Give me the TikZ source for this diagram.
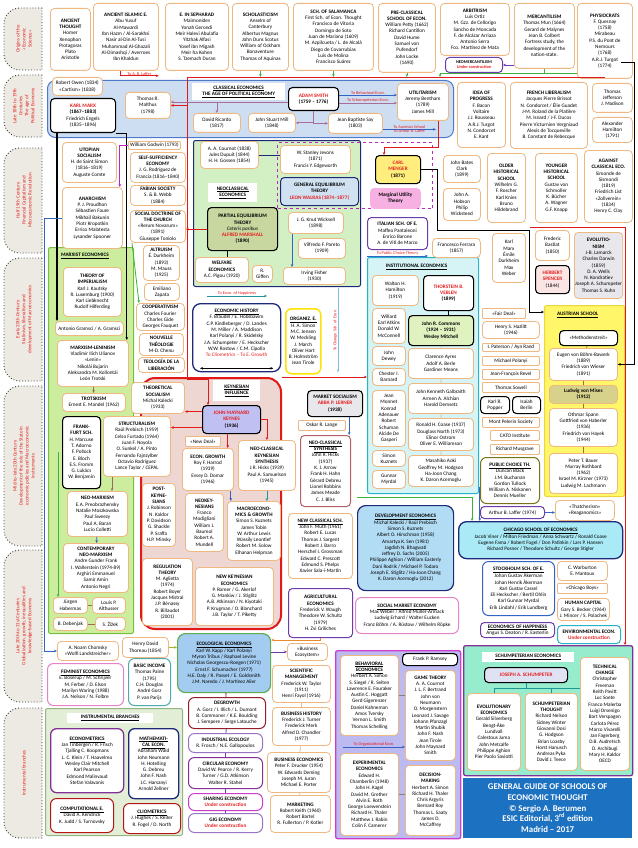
\documentclass[tikz,border=0pt]{standalone}
\usepackage{fontspec}
\setmainfont{Carlito}
\usepackage{xcolor}
\definecolor{boxtan}{RGB}{238,184,128}
\definecolor{redtxt}{RGB}{230,30,30}
\definecolor{lnred}{RGB}{225,25,25}
\definecolor{erafill}{RGB}{236,234,226}
\definecolor{eragray}{RGB}{60,60,60}
\definecolor{classfill}{RGB}{206,222,242}
\definecolor{classline}{RGB}{80,120,200}
\definecolor{neofill}{RGB}{210,240,196}
\definecolor{navy}{RGB}{30,40,120}
\definecolor{marxfill}{RGB}{204,236,158}
\definecolor{marxline}{RGB}{120,190,60}
\definecolor{keynfill}{RGB}{238,214,210}
\definecolor{instfill}{RGB}{214,243,245}
\definecolor{instline}{RGB}{40,180,200}
\definecolor{austfill}{RGB}{255,247,105}
\definecolor{austline}{RGB}{235,215,60}
\definecolor{schumfill}{RGB}{150,236,204}
\definecolor{purpline}{RGB}{130,50,150}
\definecolor{behfill}{RGB}{188,186,240}
\definecolor{magline}{RGB}{205,60,205}
\definecolor{instrfill}{RGB}{226,239,214}
\definecolor{instrline}{RGB}{150,180,130}
\definecolor{guideblue}{RGB}{28,113,192}
\definecolor{olivefill}{RGB}{200,214,160}
\definecolor{misesfill}{RGB}{214,210,140}
\definecolor{walrasfill}{RGB}{208,226,242}
\definecolor{keynesfill}{RGB}{192,192,242}
\definecolor{mengerfill}{RGB}{255,238,125}
\definecolor{pinkfill}{RGB}{246,176,226}
\definecolor{commonsfill}{RGB}{224,242,192}
\definecolor{devfill}{RGB}{178,220,244}
\definecolor{chicfill}{RGB}{170,234,246}
\definecolor{ecofill}{RGB}{164,204,240}
\definecolor{ecoline}{RGB}{90,175,80}
\definecolor{spencerfill}{RGB}{250,228,228}
\definecolor{grayfill}{RGB}{232,232,236}
\definecolor{schumbox}{RGB}{222,226,242}
\definecolor{lnblue}{RGB}{50,100,200}
\definecolor{lnmauve}{RGB}{170,110,150}
\definecolor{lngreen}{RGB}{60,180,60}
\definecolor{lnmag}{RGB}{190,40,190}
\definecolor{lnteal}{RGB}{30,150,150}
\definecolor{lnpurp}{RGB}{110,60,170}
\definecolor{lnorange}{RGB}{230,140,40}
\definecolor{lnolive}{RGB}{160,180,40}
\definecolor{lnbrown}{RGB}{150,110,80}
\definecolor{lnlblue}{RGB}{120,190,230}
\definecolor{dkred}{RGB}{150,30,40}
\definecolor{pinkline}{RGB}{230,130,200}
\definecolor{tealline}{RGB}{80,170,170}
\usepackage{tikz}
\usetikzlibrary{arrows.meta}
\newcommand{\bxfont}{\fontsize{5.2}{6.3}\selectfont}
\newcommand{\lblfont}{\fontsize{4.3}{5}\selectfont}
\newcommand{\erafont}{\fontsize{5}{6}\selectfont}
\newcommand{\hd}[1]{\textbf{#1}}
\newcommand{\uh}[1]{\underline{\textbf{#1}}}
\newcommand{\rd}[1]{\textcolor{redtxt}{\textbf{#1}}}
\newcommand{\undercon}{\textcolor{redtxt}{\textbf{Under construction}}}

\begin{document}
\begin{tikzpicture}[x=1pt, y=-1pt,
  bx/.style={draw=boxtan, line width=0.8pt, rounded corners=4pt, fill=white, align=center, inner sep=0.8pt, anchor=north west, font=\bxfont},
  kbx/.style={bx, draw=black, line width=1.1pt},
  cbx/.style={bx, draw=#1, line width=1pt},
  wh/.style 2 args={minimum width=#1pt, minimum height=#2pt},
  region/.style={anchor=north west, rounded corners=2pt, line width=1pt, inner sep=0pt},
  ttl/.style={anchor=north west, align=center, inner sep=0.8pt, font=\bxfont},
  lbl/.style={font=\lblfont, text=redtxt, inner sep=0.4pt},
  erabox/.style={draw=eragray, fill=erafill, line width=0.9pt, dotted},
  eratxt/.style={rotate=90, align=center, font=\erafont, text=redtxt},
  ln/.style={line width=0.8pt},
  arr/.style={line width=0.8pt, -{Stealth[length=3pt, width=2.6pt]}},
  dblarr/.style={line width=0.7pt, {Stealth[length=3pt, width=2.6pt]}-{Stealth[length=3pt, width=2.6pt]}}]
\useasboundingbox (0,0) rectangle (637,848);
\fill[white] (0,0) rectangle (637,848);

% era labels
\foreach \ya/\yb/\txt in {8/70/{Origins of the\\«Economic\\Science»},
  75/137/{Late 18th to 19th\\Centuries\\The age of\\Political Economy},
  148/253/{Half 19th Century\\Financial Capitalism and\\Microeconomic Revolution},
  258/381/{Early 20th Century\\Stalinism, liberalism and\\development of Macroeconomics},
  386/546/{Mid-to-late 20th Century\\Development of the role of the State in\\economic policies and Macroeconomic\\instruments},
  550/702/{Late 20th to 21st Centuries\\Globalization, growth, inequalities and\\knowledge-based Economy},
  708/838/{Instrumental branches}}{
  \draw[erabox] (42,\ya) -- (20,\ya) arc[start angle=90, end angle=180, radius=16pt]
    -- (4,{\yb-16}) arc[start angle=180, end angle=270, radius=16pt] -- (42,\yb) -- cycle;
  \node[eratxt] (era\ya) at (24,{(\ya+\yb)/2}) {\txt};
}

% regions
\node[region, fill=classfill, draw=classline, wh={406}{57}, rounded corners=8pt] (classreg) at (47,80) {};
\node[region, fill=neofill, draw=navy, wh={167}{146}] (neoreg) at (193,140) {};
\node[region, fill=marxfill, draw=marxline, wh={85}{386}] (marxreg) at (48,247) {};
\node[region, fill=keynfill, draw=lnred, line width=2pt, wh={140}{251}, rounded corners=14pt] (keyreg) at (140,377) {};
\node[region, fill=instfill, draw=instline, wh={111}{236}] (instreg) at (367,257) {};
\node[region, fill=austfill, draw=austline, wh={80}{191}] (austreg) at (544,305) {};
\node[region, fill=schumfill, draw=purpline, line width=1.3pt, wh={169}{130}] (schumreg) at (463,645) {};
\node[region, fill=behfill, draw=magline, line width=1.3pt, wh={125}{188}] (behreg) at (335,650) {};
\node[region, fill=instrfill, draw=instrline, wh={137}{127}] (instrreg) at (45,708) {};
\node[region, draw=lnmag, dashed, line width=1.2pt, wh={155}{66}, rounded corners=0pt] (mureg) at (277,142) {};

% origins
\node[bx, wh={40}{62}] (anc) at (50,8) {\hd{ANCIENT}\\\hd{THOUGHT}\\Homer\\Xenophon\\Protagoras\\Plato\\Aristotle};
\node[bx, wh={65}{67}] (isl) at (93,3) {\hd{ANCIENT ISLAMIC E.}\\Abu Yusuf\\Al-Mawardi\\Ibn Hazm / Al-Sarakhsi\\Nasir al-Din Al-Tusi\\Muhammad Al-Ghazali\\Al-Dimashqi / Averroes\\Ibn Khaldun};
\node[bx, wh={63}{67}] (seph) at (165,3) {\hd{E. IN SEPHARAD}\\Maimonides\\Yonah Gerondi\\Meir Halevi Abulafia\\Yitzhak Alfasi\\Yosef ibn Migash\\Meir ha Kohen\\S. Tzemach Duran};
\node[bx, wh={56}{67}] (schol) at (232,3) {\hd{SCHOLASTICISM}\\Anselm of\\Canterbury\\Albertus Magnus\\John Duns Scotus\\William of Ockham\\Bonaventure\\Thomas of Aquinas};
\node[bx, wh={80}{67}] (salam) at (293,3) {\hd{SCH. OF SALAMANCA}\\First Sch. of Econ. Thought\\Francisco de Vitoria\\Domingo de Soto\\Juan de Mariana (1609)\\M. Azpilcueta / L. de Alcalá\\Diego de Covarrubias\\Luis de Molina\\Francisco Suárez};
\node[bx, wh={57}{69}] (precl) at (378,3) {\hd{PRE-CLASSICAL}\\\hd{SCHOOL OF ECON.}\\William Petty (1662)\\Richard Cantillon\\David Hume\\Samuel von\\Pufendorf\\John Locke\\(1690)};
\node[bx, wh={69}{52}] (arbit) at (440,3) {\hd{ARBITRISM}\\Luis Ortiz\\M. Gzz. de Cellorigo\\Sancho de Moncada\\F. de Alcázar Arriaza\\Antonio Serra\\Fco. Martínez de Mata};
\node[cbx=lnpurp, wh={57}{15}, font=\lblfont] (neomerc) at (445,57) {\hd{NEOMERCANTILISM}\\\undercon};
\node[bx, wh={60}{65}] (merc) at (514,3) {\hd{MERCANTILISM}\\Thomas Mun (1664)\\Gerard de Malynes\\Jean B. Colbert\\Fortress study, the\\development of the\\nation-state.};
\node[bx, wh={55}{75}] (physio) at (577,3) {\hd{PHYSIOCRATS}\\F. Quesnay\\(1758)\\Mirabeau\\P.S. du Pont de\\Nemours\\(1768)\\A.R.J. Turgot\\(1774)};

% classical
\node[bx, wh={50}{18}] (owen) at (52,77) {Robert Owen (1834)\\«Cartism» (1838)};
\node[kbx, wh={65}{34}] (marx) at (50,98) {\rd{KARL MARX}\\\textbf{(1867–1883)}\\Friedrich Engels\\(1835–1896)};
\node[bx, wh={45}{26}] (malthus) at (125,92) {Thomas R.\\Malthus\\(1798)};
\node[ttl, fill=white, wh={93}{17}] (classttl) at (192,83) {\uh{CLASSICAL ECONOMICS}\\\uh{THE AGE OF POLITICAL ECONOMY}};
\node[kbx, wh={50}{23}] (smith) at (288,87) {\rd{ADAM SMITH}\\\textbf{(1759 – 1776)}};
\node[bx, wh={47}{19}] (ricardo) at (193,113) {David Ricardo\\(1817)};
\node[bx, wh={47}{19}] (mill) at (248,113) {John Stuart Mill\\(1848)};
\node[bx, wh={54}{20}] (say) at (328,113) {Jean Baptiste Say\\(1803)};
\node[bx, wh={51}{37}] (util) at (397,83) {\hd{UTILITARISM}\\Jeremy Bentham\\(1789)\\James Mill};
\node[bx, wh={48}{65}] (progress) at (457,82) {\hd{IDEA OF}\\\hd{PROGRESS}\\F. Bacon\\Voltaire\\J.J. Rousseau\\A.R.J. Turgot\\N. Condorcet\\E. Kant};
\node[bx, wh={77}{66}] (frlib) at (510,82) {\hd{FRENCH LIBERALISM}\\Jacques Pierre Brissot\\N. Condorcet / Élie Guadet\\J-M. Roland de la Platière\\M. Isnard / J-F. Ducos\\Pierre Victurnien Vergniaud\\Alexis de Tocqueville\\B. Constant de Rebecque};
\node[bx, wh={40}{29}] (jeff) at (592,83) {Thomas\\Jefferson\\J. Madison};
\node[bx, wh={40}{25}] (hamil) at (592,117) {Alexander\\Hamilton\\(1791)};

% half 19th century
\node[bx, wh={52}{8}, rounded corners=1pt] (godwin) at (128,141) {William Godwin (1793)};
\node[bx, wh={54}{40}] (utopian) at (62,142) {\hd{UTOPIAN}\\\hd{SOCIALISM}\\H. de Saint Simon\\(1816–1819)\\Auguste Comte};
\node[bx, wh={55}{30}] (selfsuf) at (130,152) {\hd{SELF-SUFFICIENCY}\\\hd{ECONOMY}\\J. G. Rodríguez de\\Francia (1816–1840)};
\node[bx, wh={55}{20}] (fabian) at (130,185) {\hd{FABIAN SOCIETY}\\S. \& B. Webb\\(1884)};
\node[bx, wh={55}{32}] (socdoc) at (130,210) {\hd{SOCIAL DOCTRINE OF}\\\hd{THE CHURCH}\\«Rerum Novarum»\\(1891)\\Giuseppe Toniolo};
\node[bx, wh={60}{61}] (anarch) at (62,187) {\hd{ANARCHISM}\\P. J. Proudhon\\Sébastien Faure\\Mikhail Bakunin\\Piotr Kropotkin\\Errico Malatesta\\Lysander Spooner};
\node[bx, wh={58}{27}] (cournot) at (200,141) {A. A. Cournot (1838)\\Jules Dupuit (1844)\\H. H. Gossen (1854)};
\node[ttl, fill=white, wh={49}{19}] (neottl) at (208,183) {\uh{NEOCLASSICAL}\\\uh{ECONOMICS}};
\node[kbx, fill=olivefill, wh={70}{43}] (marshall) at (207,207) {\hd{PARTIAL EQUILIBRIUM}\\\hd{THEORY}\\\textit{Ceteris paribus}\\\rd{ALFRED MARSHALL}\\\textbf{(1890)}};
\node[bx, wh={70}{28}] (jevons) at (280,145) {W. Stanley Jevons\\(1871)\\Francis Y. Edgeworth};
\node[cbx=navy, fill=walrasfill, wh={78}{28}] (walras) at (280,177) {\hd{GENERAL EQUILIBRIUM}\\\hd{THEORY}\\\rd{LEON WALRAS (1874–1877)}};
\node[bx, wh={55}{21}] (wicksell) at (288,212) {J. G. Knut Wicksell\\(1898)};
\node[bx, wh={47}{20}] (pareto) at (298,238) {Vilfredo F. Pareto\\(1909)};
\node[kbx, fill=mengerfill, wh={45}{28}] (menger) at (375,155) {\rd{CARL}\\\rd{MENGER}\\\textbf{(1871)}};
\node[bx, draw=pinkfill, fill=pinkfill, wh={50}{20}] (margut) at (370,188) {\hd{Marginal Utility}\\\hd{Theory}};
\node[bx, wh={37}{27}] (clark) at (443,155) {John Bates\\Clark\\(1899)};
\node[bx, wh={37}{32}] (hobson) at (443,188) {John A.\\Hobson\\Philip\\Wicksteed};
\node[cbx=lnpurp, wh={60}{32}] (italian) at (367,217) {\hd{ITALIAN SCH. OF E.}\\Maffeo Pantaleoni\\Enrico Barone\\A. de Viti de Marco};
\node[bx, wh={48}{19}] (ferrara) at (432,238) {Francesco Ferrara\\(1857)};
\node[bx, wh={38}{69}] (older) at (487,153) {\hd{OLDER}\\\hd{HISTORICAL}\\\hd{SCHOOL}\\Wilhelm G.\\F. Roscher\\Karl Knies\\Bruno\\Hildebrand};
\node[bx, wh={42}{69}] (younger) at (535,153) {\hd{YOUNGER}\\\hd{HISTORICAL}\\\hd{SCHOOL}\\Gustav von\\Schmoller\\K. Bücher\\A. Wagner\\G.F. Knapp};
\node[bx, wh={48}{72}] (against) at (584,150) {\hd{AGAINST}\\\hd{CLASSICAL ECO.}\\Simonde de\\Sismondi\\(1819)\\Friedrich List\\«Zollverein»\\(1834)\\Henry C. Clay};
\node[bx, wh={33}{49}] (mdw) at (492,233) {Karl\\Marx\\Émile\\Durkheim\\Max\\Weber};
\node[bx, wh={34}{30}] (bastiat) at (535,230) {Frederic\\Bastiat\\(1850)};
\node[bx, fill=grayfill, wh={46}{66}] (evolut) at (574,232) {\hd{EVOLUTIO-}\\\hd{NISM}\\J-B. Lamarck\\Charles Darwin\\(1859)\\D. A. Wells\\N. Kondratiev\\Joseph A. Schumpeter\\Thomas S. Kuhn};
\node[kbx, fill=spencerfill, wh={34}{28}] (spencer) at (535,265) {\rd{HERBERT}\\\rd{SPENCER}\\(1844)};

% left column, early 20th century
\node[bx, wh={36}{35}] (altru) at (143,245) {\hd{ALTRUISM}\\É. Durkheim\\(1893)\\M. Mauss\\(1925)};
\node[bx, wh={35}{17}] (zapata) at (144,283) {Emiliano\\Zapata};
\node[bx, wh={48}{27}] (coop) at (136,303) {\hd{COOPERATIVISM}\\Charles Fourier\\Charles Gide\\Georges Fauquet};
\node[bx, wh={44}{22}] (nouv) at (139,333) {\hd{NOUVELLE}\\\hd{THÉOLOGIE}\\M-D. Chenu};
\node[bx, wh={46}{15}] (teol) at (138,357) {\hd{TEOLOGÍA DE LA}\\\hd{LIBERACIÓN}};
\node[bx, wh={53}{31}] (theorsoc) at (131,382) {\hd{THEORETICAL}\\\hd{SOCIALISM}\\Michal Kalecki\\(1933)};
\node[ttl] (marxttl) at (60,252) {\uh{MARXIST ECONOMICS}};
\node[bx, wh={58}{49}] (imper) at (63,267) {\hd{THEORY OF}\\\hd{IMPERIALISM}\\Karl J. Kautsky\\R. Luxemburg (1900)\\Karl Liebknecht\\Rudolf Hilferding};
\node[bx, wh={68}{14}] (gramsci) at (55,321) {Antonio Gramsci / A. Gramsci};
\node[bx, wh={71}{46}] (lenin) at (57,340) {\hd{MARXISM-LENINISM}\\Vladimir Ilich Ulianov\\«Lenin»\\Nikolái Bujarin\\Aleksandra M. Kollontái\\León Trotski};
\node[bx, wh={63}{18}] (trotsk) at (62,393) {\hd{TROTSKISM}\\Ernest E. Mandel (1962)};
\node[kbx, wh={38}{72}] (frank) at (62,416) {\hd{FRANK-}\\\hd{FURT SCH.}\\H. Marcuse\\T. Adorno\\F. Pollock\\E. Bloch\\E.S. Fromm\\G. Lukács\\W. Benjamin};
\node[bx, wh={67}{60}] (struct) at (103,416) {\hd{STRUCTURALISM}\\Raúl Prebisch (1959)\\Celso Furtado (1964)\\Juan F. Noyola\\O. Sunkel / A. Pinto\\Fernando Fajnzylber\\Octavio Rodríguez\\Lance Taylor / CEPAL};
\node[bx, wh={60}{45}] (neomarx) at (67,491) {\hd{NEO-MARXISM}\\E.A. Preobrazhensky\\Natalie Moszkowska\\Paul Sweezy\\Paul A. Baran\\Lucio Colletti};
\node[bx, wh={65}{49}] (contneo) at (63,543) {\hd{CONTEMPORARY}\\\hd{NEO-MARXISM}\\Andre Gunder Frank\\I. Wallerstein (1974-89)\\Arghiri Emmanuel\\Samir Amin\\Antonio Negri};
\node[bx, wh={34}{16}] (haber) at (53,597) {Jürgen\\Habermas};
\node[bx, wh={33}{16}] (althus) at (92,597) {Louis P.\\Althusser};
\node[bx, wh={34}{13}] (deben) at (53,617) {B. Debenjak};
\node[bx, wh={30}{13}] (zizek) at (95,617) {S. Žižek};

% neoclassical lower part, Keynesian
\node[bx, wh={53}{25}] (welfare) at (195,257) {\hd{WELFARE}\\\hd{ECONOMICS}\\A.C. Pigou (1920)};
\node[bx, wh={20}{17}] (giffen) at (252,265) {R.\\Giffen};
\node[bx, wh={62}{17}] (fisher) at (283,267) {Irving Fisher\\(1930)};
\node[cbx=navy, line width=1.3pt, rounded corners=8pt, wh={88}{68}] (ehist) at (192,303) {\uh{ECONOMIC HISTORY}\\F. Braudel / E. Hobsbawm\\C.P. Kindleberger / D. Landes\\M. Miller / A. Maddison\\Karl Polanyi / R. Skidelsky\\J.A. Schumpeter / E. Heckscher\\W.W. Rostow / C.M. Cipolla\\\textcolor{redtxt}{To Cliometrics – To E. Growth}\\[3pt]};
\node[cbx=yellow!85!orange, line width=1.5pt, rounded corners=6pt, wh={35}{65}] (organiz) at (285,308) {\uh{ORGANIZ. E.}\\H. A. Simon\\M.C. Jensen\\W. Meckling\\J. March\\Oliver Hart\\B. Holmström\\Jean Tirole};
\node[ttl, fill=white, wh={47}{21}] (keynttl) at (213,380) {\uh{KEYNESIAN}\\\uh{INFLUENCE}};
\node[kbx, fill=keynesfill, wh={58}{28}] (keynes) at (202,405) {\rd{JOHN MAYNARD}\\\rd{KEYNES}\\\textbf{(1936)}};
\node[bx, wh={35}{10}, rounded corners=1pt] (newdeal) at (185,436) {«New Deal»};
\node[bx, wh={51}{42}] (egrowth) at (182,448) {\hd{ECON. GROWTH}\\Roy F. Harrod\\(1939)\\Evsey D. Domar\\(1946)};
\node[bx, wh={57}{50}] (nksyn) at (238,440) {\hd{NEO-CLASSICAL}\\\hd{KEYNESIAN}\\\hd{SYNTHESIS}\\J.R. Hicks (1939)\\Paul A. Samuelson\\(1945)};
\node[bx, wh={38}{58}] (neokey) at (185,493) {\hd{NEOKEY-}\\\hd{NESIANS}\\Franco\\Modigliani\\William J.\\Baumol\\Robert A.\\Mundell};
\node[bx, wh={53}{59}] (macro) at (227,501) {\hd{MACROECONO-}\\\hd{MICS \& GROWTH}\\Simon S. Kuznets\\James Tobin\\W. Arthur Lewis\\Wassily Leontief\\Robert M. Solow\\Elhanan Helpman};
\node[bx, wh={33}{63}] (postk) at (142,483) {\hd{POST-}\\\hd{KEYNE-}\\\hd{SIANS}\\J. Robinson\\N. Kaldor\\P. Davidson\\G. Shackle\\P. Sraffa\\H.P. Minsky};
\node[bx, wh={50}{67}] (regul) at (142,558) {\hd{REGULATION}\\\hd{THEORY}\\M. Aglietta\\(1974)\\Robert Boyer\\Jacques Mistral\\J.P. Bénassy\\R. Billaudot\\(2001)};
\node[bx, wh={78}{58}] (newkey) at (195,567) {\hd{NEW KEYNESIAN}\\\hd{ECONOMICS}\\P. Romer / G. Akerlof\\G. Mankiw / J. Stiglitz\\A.B. Atkinson / N. Kiyotaki\\P. Krugman / O. Blanchard\\J.B. Taylor / T. Piketty};
\node[kbx, fill=grayfill, wh={55}{26}] (marketsoc) at (307,390) {\hd{MARKET SOCIALISM}\\\rd{ABBA P. LERNER}\\\textbf{(1938)}};
\node[bx, wh={47}{10}, rounded corners=1pt] (lange) at (298,420) {Oskar R. Lange};
\node[cbx=dkred!70, wh={50}{71}] (ncsyn) at (300,435) {\uh{NEO-CLASSICAL}\\\uh{SYNTHESIS}\\John R. Hicks\\(1937)\\K. J. Arrow\\Frank H. Hahn\\Gérard Debreu\\Lionel Robbins\\James Meade\\C. J. Bliss};
\node[bx, wh={64}{65}] (newclass) at (288,513) {\uh{NEW CLASSICAL SCH.}\\John F. Muth (1961)\\Robert E. Lucas\\Thomas J. Sargent\\Robert J. Barro\\Herschel I. Grossman\\Edward C. Prescott\\Edmund S. Phelps\\Xavier Sala-i-Martin};
\node[cbx=lnpurp, wh={64}{49}] (agri) at (288,588) {\hd{AGRICULTURAL}\\\hd{ECONOMICS}\\Frederick V. Waugh\\Theodore W. Schultz\\(1979)\\H. Zvi Griliches};

% institutional
\node[ttl] (instttl) at (385,263) {\uh{INSTITUTIONAL ECONOMICS}};
\node[bx, wh={46}{30}] (walton) at (372,275) {Walton H.\\Hamilton\\(1919)};
\node[kbx, wh={50}{35}] (veblen) at (423,275) {\rd{THORSTEIN B.}\\\rd{VEBLEN}\\\textbf{(1899)}};
\node[bx, wh={33}{35}] (atkins) at (372,308) {Willard\\Earl Atkins\\Donald W.\\McConnell};
\node[kbx, fill=commonsfill, wh={65}{30}] (commons) at (408,315) {\textbf{John R. Commons}\\\textbf{(1924 – 1931)}\\\textbf{Wesley Mitchell}};
\node[bx, wh={33}{19}] (dewey) at (372,346) {John\\Dewey};
\node[bx, wh={33}{17}] (barnard) at (372,368) {Chester I.\\Barnard};
\node[bx, wh={33}{56}] (monnet) at (372,390) {Jean\\Monnet\\Konrad\\Adenauer\\Robert\\Schuman\\Alcide De\\Gasperi};
\node[bx, wh={33}{16}] (kuznets) at (372,450) {Simon\\Kuznets};
\node[bx, wh={33}{18}] (myrdal) at (372,470) {Gunnar\\Myrdal};
\node[bx, wh={65}{30}] (ayres) at (408,348) {Clarence Ayres\\Adolf A. Berle\\Gardiner Means};
\node[bx, wh={65}{30}] (galbr) at (408,383) {John Kenneth Galbraith\\Armen A. Alchian\\Harold Demsetz};
\node[bx, wh={65}{32}] (coase) at (408,418) {Ronald H. Coase (1937)\\Douglass North (1973)\\Elinor Ostrom\\Oliver E. Williamson};
\node[bx, wh={65}{31}] (aoki) at (408,455) {Masahiko Aoki\\Geoffrey M. Hodgson\\Ha-Joon Chang\\K. Daron Acemoglu};
\node[cbx=navy, fill=devfill, line width=1.2pt, rounded corners=8pt, wh={96}{85}] (dev) at (357,505) {\uh{DEVELOPMENT ECONOMICS}\\Michal Kalecki / Raúl Prebisch\\Simon S. Kuznets\\Albert O. Hirschman (1958)\\Amartya K. Sen (1981)\\Jagdish N. Bhagwati\\Jeffrey D. Sachs (2005)\\Philippe Aghion / William Easterly\\Dani Rodrik / Michael P. Todaro\\Joseph E. Stiglitz / Ha-Joon Chang\\K. Daron Acemoglu (2012)};
\node[cbx=pinkline, rounded corners=6pt, wh={103}{36}] (socmkt) at (355,597) {\uh{SOCIAL MARKET ECONOMY}\\Max Weber / Alfred Müller-Armack\\Ludwig Erhard / Walter Eucken\\Franz Böhm / A. Rüstow / Wilhelm Röpke};

% liberal column and Austrian school
\node[bx, wh={43}{10}, rounded corners=1pt] (fairdeal) at (482,308) {«Fair Deal»};
\node[bx, wh={57}{17}] (hazlitt) at (482,321) {Henry S. Hazlitt\\(1946)};
\node[bx, wh={57}{8}, rounded corners=1pt] (rand) at (482,343) {I. Paterson / Ayn Rand};
\node[bx, wh={57}{9}, rounded corners=1pt] (polanyi) at (482,356) {Michael Polanyi};
\node[bx, wh={57}{10}, rounded corners=1pt] (revel) at (482,369) {Jean-François Revel};
\node[bx, wh={57}{10}, rounded corners=1pt] (sowell) at (482,382) {Thomas Sowell};
\node[kbx, wh={29}{17}] (popper) at (480,396) {Karl R.\\Popper};
\node[kbx, wh={28}{17}] (berlin) at (512,396) {Isaiah\\Berlin};
\node[bx, wh={57}{10}, rounded corners=1pt] (montp) at (482,417) {Mont Pelerin Society};
\node[bx, wh={49}{10}, rounded corners=1pt] (cato) at (490,430) {CATO Institute};
\node[bx, wh={49}{10}, rounded corners=1pt] (musgr) at (490,444) {Richard Musgrave};
\node[cbx=olive!80!black, rounded corners=6pt, wh={59}{46}] (pubch) at (480,457) {\uh{PUBLIC CHOICE TH.}\\Duncan Black\\J.M. Buchanan\\Gordon Tullock\\William A. Niskanen\\Dennis Mueller};
\node[ttl] (austttl) at (556,311) {\uh{AUSTRIAN SCHOOL}};
\node[kbx, wh={58}{15}] (methoden) at (559,330) {«Methodenstreit»};
\node[bx, wh={68}{32}] (bohm) at (549,348) {Eugen von Böhm-Bawerk\\(1889)\\Friedrich von Wieser\\(1891)};
\node[bx, fill=misesfill, wh={68}{18}] (mises) at (549,385) {\textbf{Ludwig von Mises}\\\textbf{(1912)}};
\node[bx, wh={68}{38}] (spann) at (549,408) {Othmar Spann\\Gottfried von Haberler\\(1936)\\Friedrich von Hayek\\(1944)};
\node[bx, wh={68}{40}] (bauer) at (549,453) {Peter T. Bauer\\Murray Rothbard\\(1962)\\Israel M. Kirzner (1973)\\Ludwig M. Lachmann};
\node[cbx=lnpurp, wh={64}{12}] (laffer) at (480,506) {Arthur B. Laffer (1974)};
\node[bx, wh={59}{20}] (thatch) at (555,500) {«Thatcherism»\\«Reaganomics»};
\node[cbx=navy, fill=chicfill, line width=1.3pt, rounded corners=8pt, wh={164}{37}] (chicago) at (458,521) {\uh{CHICAGO SCHOOL OF ECONOMICS}\\Jacob Viner / Milton Friedman / Anna Schwartz / Ronald Coase\\Eugene Fama / Robert Fogel / Don Patinkin / Lars P. Hansen\\Richard Posner / Theodore Schultz / George Stigler};
\node[cbx=lnblue, rounded corners=6pt, wh={72}{54}] (stock) at (482,561) {\uh{STOCKHOLM SCH. OF E.}\\Johan Gustav Åkerman\\Johan Henrik Åkerman\\Karl Gustav Cassel\\Eli Heckscher / Bertil Ohlin\\Karl Gunnar Myrdal\\Erik Lindahl / Erik Lundberg};
\node[bx, wh={50}{19}] (warb) at (557,561) {C. Warburton\\E. Mantoux};
\node[bx, wh={50}{10}, rounded corners=1pt] (chboys) at (557,583) {«Chicago Boys»};
\node[bx, wh={52}{22}] (humcap) at (557,598) {\hd{HUMAN CAPITAL}\\Gary S. Becker (1964)\\J. Mincer / S. Polachek};
\node[cbx=lnpurp, wh={74}{15}] (happy) at (480,622) {\uh{ECONOMICS OF HAPPINESS}\\Angus S. Deaton / R. Easterlin};
\node[cbx=instline, wh={63}{18}] (envir) at (557,625) {\hd{ENVIRONMENTAL ECON.}\\\undercon};

% Schumpeterian
\node[ttl, fill=white, wh={92}{10}] (schumttl) at (482,652) {\uh{SCHUMPETERIAN ECONOMICS}};
\node[kbx, fill=schumbox, wh={83}{15}] (schum) at (484,667) {\rd{JOSEPH A. SCHUMPETER}};
\node[bx, wh={53}{77}] (evoec) at (467,693) {\hd{EVOLUTIONARY}\\\hd{ECONOMICS}\\Gerald Silverberg\\Bengt-Åke\\Lundvall\\Calestous Juma\\John Metcalfe\\Philippe Aghion\\Pier Paolo Saviotti};
\node[bx, wh={52}{77}] (schth) at (525,693) {\hd{SCHUMPETERIAN}\\\hd{THOUGHT}\\Richard Nelson\\Sidney Winter\\Giovanni Dosi\\G. Hodgson\\Brian Loasby\\Horst Hanusch\\Andreas Pyka\\David J. Teece};
\node[bx, wh={49}{113}] (techch) at (580,657) {\hd{TECHNICAL}\\\hd{CHANGE}\\Christopher\\Freeman\\Keith Pavitt\\Luc Soete\\Franco Malerba\\Luigi Orsenigo\\Bart Verspagen\\Carlota Pérez\\Marco Vivarelli\\Jan Fagerberg\\D.B. Audretsch\\D. Archibugi\\Mary H. Kaldor\\OECD};
\node[anchor=north west, fill=guideblue, text=white, align=center, inner sep=0pt, wh={169}{60}, font=\fontsize{8.8}{10.6}\selectfont\bfseries] (guide) at (463,778) {GENERAL GUIDE OF SCHOOLS OF\\ECONOMIC THOUGHT\\© Sergio A. Berumen\\ESIC Editorial, 3\textsuperscript{rd} edition\\Madrid – 2017};

% late 20th century, bottom left
\node[bx, wh={61}{19}] (chomsky) at (57,641) {A. Noam Chomsky\\«Wolfi Landstreicher»};
\node[bx, wh={46}{20}] (thoreau) at (122,637) {Henry David\\Thoreau (1854)};
\node[cbx=pinkline, rounded corners=6pt, wh={76}{42}] (femin) at (47,663) {\uh{FEMINIST ECONOMICS}\\E. Boserup / M. Schrijver\\M. Ferber / D. Elson\\Marilyn Waring (1988)\\J.A. Nelson / N. Folbre};
\node[cbx=tealline, rounded corners=6pt, wh={42}{47}] (basic) at (128,658) {\hd{BASIC INCOME}\\Thomas Paine\\(1795)\\C.H. Douglas\\André Gorz\\P. van Parijs};
\node[ttl, fill=white, wh={86}{10}] (instrttl) at (67,713) {\uh{INSTRUMENTAL BRANCHES}};
\node[cbx=purpline, line width=1.3pt, rounded corners=6pt, wh={73}{64}] (econom) at (50,728) {\uh{ECONOMETRICS}\\Jan Tinbergen / R. Frisch\\Tjalling C. Koopmans\\L. C. Klein / T. Haavelmo\\Wesley Clair Mitchell\\Karl Pearson\\Edmond Malinvaud\\Stefan Valavanis};
\node[cbx=navy, line width=1.3pt, rounded corners=6pt, wh={50}{70}] (mathec) at (128,728) {\uh{MATHEMATI-}\\\uh{CAL ECON.}\\Abraham Wald\\John Neumann\\H. Hotelling\\G. Debreu\\John F. Nash\\J.C. Harsanyi\\Arnold Zellner};
\node[cbx=lnred!80!black, rounded corners=6pt, wh={63}{34}] (comput) at (50,798) {\uh{COMPUTATIONAL E.}\\David A. Kendrick\\K. Judd / S. Turnovsky};
\node[cbx=lnred!80!black, rounded corners=6pt, wh={57}{30}] (cliom) at (123,803) {\uh{CLIOMETRICS}\\J. Hughes / S. Reiter\\R. Fogel / D. North};
\node[cbx=ecoline, fill=ecofill, line width=1.2pt, rounded corners=8pt, wh={93}{59}] (ecolog) at (177,633) {\uh{ECOLOGICAL ECONOMICS}\\Karl W. Kapp / Karl Polanyi\\Myron Tribus / Raphael Levine\\Nicholas Georgescu-Roegen (1971)\\Ernst F. Schumacher (1977)\\H.E. Daly / R. Passet / E. Goldsmith\\J.M. Naredo / J. Martínez Alier};
\node[cbx=dkred, rounded corners=6pt, wh={77}{31}] (degrow) at (188,697) {\hd{DEGROWTH}\\A. Gorz / I. Illich / L. Dumont\\B. Commoner / K.E. Boulding\\J. Sempere / Serge Latouche};
\node[cbx=lnpurp!70, rounded corners=6pt, wh={74}{19}] (indeco) at (188,733) {\hd{INDUSTRIAL ECOLOGY}\\R. Frosch / N.E. Gallopoulos};
\node[cbx=purpline, rounded corners=6pt, wh={74}{31}] (circ) at (188,757) {\hd{CIRCULAR ECONOMY}\\David W. Pearce / R. Kerry\\Turner / G.D. Atkinson\\Walter R. Stahel};
\node[cbx=magline, rounded corners=6pt, wh={74}{17}] (sharing) at (188,793) {\hd{SHARING ECONOMY}\\\undercon};
\node[cbx=lnpurp!70, rounded corners=6pt, wh={74}{19}] (gig) at (188,813) {\hd{GIG ECONOMY}\\\undercon};
\node[bx, wh={40}{17}] (busecosys) at (287,643) {«Business\\Ecosystem»};
\node[bx, wh={58}{37}] (sciman) at (272,665) {\hd{SCIENTIFIC}\\\hd{MANAGEMENT}\\Frederick W. Taylor\\(1911)\\Henri Fayol (1916)};
\node[bx, wh={58}{38}] (bushist) at (272,707) {\hd{BUSINESS HISTORY}\\Frederick J. Turner\\Frederick Merk\\Alfred D. Chandler\\(1977)};
\node[bx, wh={63}{40}] (busec) at (267,752) {\hd{BUSINESS ECONOMICS}\\Peter F. Drucker (1954)\\W. Edwards Deming\\Joseph M. Juran\\Michael E. Porter};
\node[bx, wh={60}{37}] (mkt) at (270,795) {\hd{MARKETING}\\Robert Keith (1960)\\Robert Bartel\\R. Fullerton / P. Kotler};
\node[bx, wh={58}{80}] (behav) at (340,655) {\uh{BEHAVIORAL}\\\uh{ECONOMICS}\\Herbert A. Simon\\S. Siegel / R. Selten\\Lawrence E. Fouraker\\Austin C. Hoggatt\\Gerd Gigerenzer\\Daniel Kahneman\\Amos Tversky\\Vernon L. Smith\\Thomas Schelling};
\node[kbx, wh={55}{12}, fill=white] (ramsey) at (402,653) {Frank P. Ramsey};
\node[bx, wh={50}{90}] (game) at (405,670) {\hd{GAME THEORY}\\A. A. Cournot\\J. L. F. Bertrand\\John von\\Neumann\\O. Morgenstern\\Leonard J. Savage\\Johann Pfanzagl\\Martin Shubik\\John F. Nash\\Jean Tirole\\John Maynard\\Smith};
\node[bx, wh={58}{82}] (exper) at (340,753) {\hd{EXPERIMENTAL}\\\hd{ECONOMICS}\\Edward H.\\Chamberlin (1948)\\John H. Kagel\\David M. Grether\\Alvin E. Roth\\George Loewenstein\\Richard H. Thaler\\Matthew J. Rabin\\Colin F. Camerer};
\node[bx, wh={50}{70}] (decis) at (405,765) {\hd{DECISION-}\\\hd{MAKING}\\Herbert A. Simon\\Richard H. Thaler\\Chris Argyris\\Bernard Roy\\Thomas L. Saaty\\James D.\\McCaffrey};

% connectors
\coordinate (rtopL) at (187,77);
\coordinate (rtopR) at (605,77);
\coordinate (g1) at (440,73);
\draw[ln, draw=lnred] (rtopL) -- (rtopR);
\foreach \n in {schol,salam,precl} \draw[arr, draw=lngreen] (\n.south) -- (\n.south |- rtopL);
\draw[ln, draw=lngreen] (merc.south) -- (merc.south |- g1);
\draw[arr, draw=lngreen] (physio.south west |- g1) -- (g1) -- (g1 |- rtopL);
\draw[arr, draw=lnpurp] (merc.west |- neomerc.east) -- (neomerc.east);
\draw[arr, draw=lnred] ([xshift=-6pt]isl.south) |- ([yshift=-5pt]isl.south east) node[pos=0.75, above=-0.5pt, lbl] (tolaf1) {To A. B. Laffer};

\coordinate (rbend) at (187,379);
\draw[arr, draw=lnred] (rtopL) |- ([xshift=6pt]keynes.north west |- rbend) -- ([xshift=6pt]keynes.north west);
\draw[arr, draw=lnred] (malthus.east -| rtopL) -- (malthus.east);
\draw[arr, draw=lnred] (marshall.west) -- (marshall.west -| socdoc.east);
\coordinate (rr1) at (530,227);
\coordinate (rr2) at (625,227);
\draw[arr, draw=lnred] (rr1) -- (rr2) -- (rr2 |- schumreg.north);
\coordinate (tg) at (621,62);
\coordinate (tgR) at (634,62);
\draw[arr] (tg) -- (tgR) -- (bohm.east -| tgR) -- (bohm.east);
\coordinate (mg1) at (437,230);
\coordinate (mg2) at (529,312);
\draw[arr] (menger.east) -| (mg1) -| (mg2) -- (mg2 -| austreg.west);
\coordinate (um) at (384,147);
\draw[arr, draw=lnred] ([xshift=-10pt]util.south east) |- (um) -- (um |- menger.north);

\coordinate (sm) at ([yshift=-3pt]smith.west);
\draw[arr, draw=lnmauve] (sm) -- (sm -| malthus.east);
\draw[arr, draw=lnmauve] (sm -| ricardo.north) -- (ricardo.north);
\draw[arr, draw=lnmauve] (smith.south) |- (mill.east);
\draw[arr, draw=lnmauve] (smith.south) |- (say.west);
\draw[arr, draw=lnblue] ([yshift=4pt]smith.east) -- ([yshift=4pt]smith.east -| util.west) node[midway, above=-0.3pt, lbl] (tobeh) {To Behavioral Econ.};
\draw[arr, draw=lnmauve] ([yshift=-4pt]smith.east) -- ([yshift=-4pt]smith.east -| util.west) node[midway, above=-0.3pt, lbl] (toschu) {To Schumpeterian Econ.};
\coordinate (sa) at (436,0);
\draw[arr, draw=lnblue] ([yshift=-6pt]say.east) -- ([yshift=-6pt]say.east -| sa) node[midway, above=-0.3pt, lbl] (toaus) {To Austrian School} node[midway, below=-0.3pt, lbl] (tolaf2) {To Arthur B. Laffer};

\draw[arr, line width=1.1pt] ([xshift=7pt]marx.south west) -- ([xshift=7pt]marx.south west |- gramsci.north);
\draw[arr, line width=1.1pt] (marx.south east) -| ([xshift=-2pt]lenin.north east);
\draw[arr, draw=lnmag] (godwin.west) -| ([xshift=-3pt]anarch.north east);
\coordinate (bl) at (44,0);
\draw[arr, draw=lnblue] (anarch.west) -- (anarch.west -| bl) |- (chomsky.west);
\draw[arr, draw=lngreen] ([xshift=-4pt]coop.north west |- socdoc.south) -- ([xshift=3pt]coop.north west);
\draw[arr, draw=lnbrown] (lenin) -- (trotsk);
\draw[arr, draw=lnbrown] ([xshift=9pt]struct.south west) -- ([xshift=9pt]struct.south west |- neomarx.north);
\draw[arr, draw=lnblue] (neomarx) -- (contneo);
\draw[arr, draw=lngreen] ([xshift=-3pt]frank.west) -| ([xshift=5pt]haber.north west);
\draw[ln, draw=lnbrown] (haber) -- (althus);
\draw[ln, draw=lnbrown] (deben) -- (zizek);

\draw[arr, draw=lnred] ([xshift=-6pt]egrowth.north east |- keynes.south) -- ([xshift=-6pt]egrowth.north east);
\draw[arr, draw=lnred] (keynes.east) -| (nksyn.north);
\draw[arr, draw=lnred] ([yshift=8pt]keynes.west) -- ([yshift=8pt]keynes.west -| theorsoc.east);
\draw[arr, draw=lnred] ([yshift=-8pt]keynes.west) -- ([yshift=-8pt]keynes.west -| struct.east);
\draw[arr, draw=lnblue] ([xshift=-3pt]egrowth.south east) -- ([xshift=-3pt]egrowth.south east |- macro.north);
\draw[arr, draw=lnteal] (nksyn.south) -- (nksyn.south |- macro.north);
\draw[arr, draw=lnred] (keyreg.north east) -- (keyreg.north east -| instreg.west);

\draw[dblarr] ([xshift=8pt, yshift=4pt]ehist.south west) -- ([xshift=-8pt, yshift=4pt]ehist.south east);
\coordinate (eh1) at (207,296);
\draw[arr, draw=lnteal] (eh1) -- ++(60,0) node[midway, above=-0.3pt, lbl] (tohap) {To Econ. of Happiness};
\coordinate (cs1) at (338,288);
\draw[arr, draw=lnlblue] (cs1) -- (cs1 |- ehist.south) node[midway, lbl, rotate=90, anchor=south] (tochg) {To Change Sch. of Econ.};
\draw[arr, draw=lnblue] ([xshift=-14pt]marketsoc.south east) -- ([xshift=-14pt]marketsoc.south east |- ncsyn.north);
\draw[ln, draw=navy] (cournot.east) -- (cournot.east -| jevons.west);
\draw[arr, draw=lnblue] ([xshift=4pt]wicksell.south west) -- ([xshift=4pt]wicksell.south west |- fisher.north);
\draw[ln] ([xshift=-15pt]marshall.south) -- ([xshift=-15pt]marshall.south |- welfare.north);
\draw[arr, draw=lnblue] ([yshift=-6pt]italian.south west) -- ([yshift=-6pt]italian.south east) node[midway, above=-0.3pt, lbl] (topub) {To Public Choice Theory};

\draw[ln] (veblen.south) -- (veblen.south |- commons.north);
\draw[ln, draw=boxtan] (commons) -- (ayres) -- (galbr) -- (coase) -- (aoki);
\draw[ln, draw=lnbrown] (methoden) -- (bohm) -- (mises) -- (spann) -- (bauer);
\draw[arr, draw=lnblue] (laffer.east) -- (laffer.east -| thatch.west);
\coordinate (ig) at (357,497);
\draw[arr, draw=lngreen] (ig) -| ([xshift=14pt]chicago.north west);
\draw[arr, draw=lnblue] ([xshift=6pt]aoki.south east) -- ([xshift=6pt]aoki.south east |- chicago.north);

\draw[arr, draw=lnolive] (thoreau.east) -- (thoreau.east -| ecolog.west);
\draw[arr, draw=lnpurp] (busecosys.west -| ecolog.east) -- (busecosys.west);
\draw[arr, draw=lnorange] (agri.south) |- ([yshift=-7pt]ecolog.north east);
\draw[ln, draw=dkred] (ecolog) -- (degrow);
\draw[ln, draw=lnpurp] (degrow) -- (indeco) -- (circ) -- (sharing) -- (gig);
\draw[ln, draw=boxtan] (sciman) -- (bushist) -- (busec) -- (mkt);

\draw[ln, draw=gray] (behav.east) -- (behav.east -| game.west);
\draw[ln, draw=gray] (exper.east) -- (exper.east -| decis.west);
\coordinate (og) at (343,747);
\draw[arr, draw=lnblue] (og) -- (og -| game.west) node[midway, above=-0.3pt, lbl] (toorg) {To Organizational Econ.};

\coordinate (sj) at (0,688);
\draw[ln, draw=lnteal] (schum.south) -- (schum.south |- sj);
\draw[ln, draw=lnteal] (evoec.north) |- (techch.west |- sj);
\draw[ln, draw=lnteal] (schth.north |- sj) -- (schth.north);
\end{tikzpicture}
\end{document}
